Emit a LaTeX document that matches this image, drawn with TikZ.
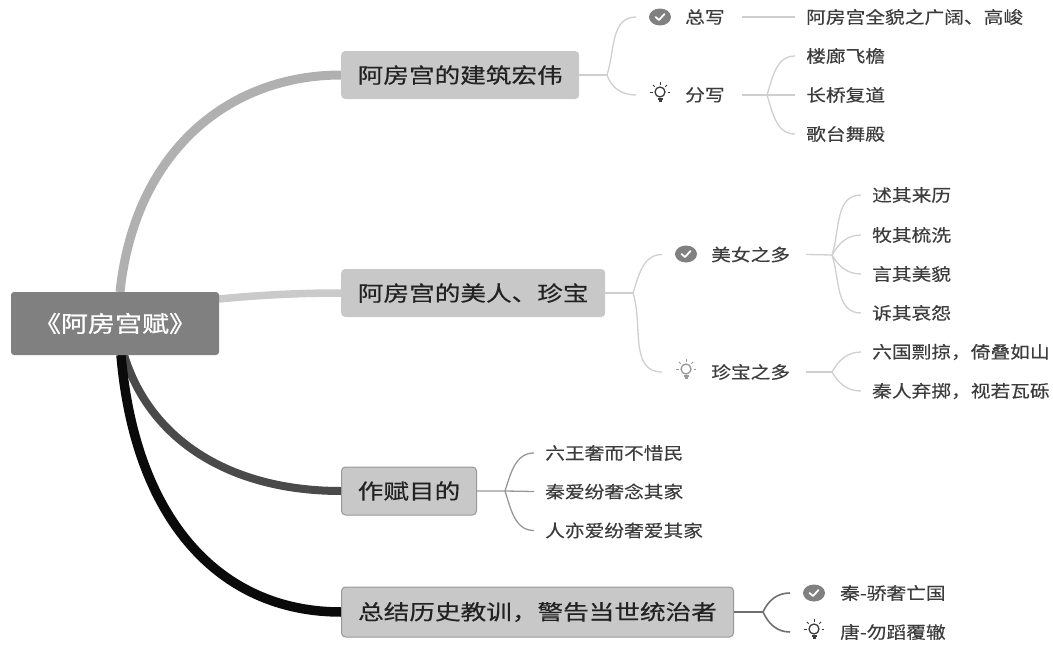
\documentclass[tikz,border=0pt]{standalone}
\usepackage{fontspec}
\usetikzlibrary{shapes.geometric}
\setmainfont{Noto Sans CJK SC}
\newfontfamily\leaffont[FakeStretch=1.16,FakeBold=0.25]{Noto Sans CJK SC}
\newfontfamily\mainfont[FakeStretch=1.22,FakeBold=0.5]{Noto Sans CJK SC}
\newfontfamily\rootfont[FakeStretch=1.2,FakeBold=1.0]{Noto Sans CJK SC}
\definecolor{rootgray}{HTML}{808080}
\definecolor{boxgray}{HTML}{C8C8C8}
\definecolor{edgeone}{HTML}{B0B0B0}
\definecolor{edgetwo}{HTML}{CACACA}
\definecolor{edgethree}{HTML}{4A4A4A}
\definecolor{edgefour}{HTML}{0A0A0A}
\definecolor{thinlight}{HTML}{CFCFCF}
\definecolor{thinmid}{HTML}{989898}
\definecolor{thindark}{HTML}{707070}
\definecolor{leaftext}{HTML}{3C3C3C}
\definecolor{boxtext}{HTML}{222222}
\tikzset{
  x=1pt,y=1pt,
  rootbox/.style={draw=none,fill=rootgray,rounded corners=3pt,text=white,inner sep=0pt,
    minimum width=208pt,minimum height=63pt,font=\rootfont\fontsize{22.5}{26}\selectfont},
  mainbox/.style={fill=boxgray,rounded corners=4pt,text=boxtext,inner sep=0pt,anchor=west,
    minimum height=48pt,font=\mainfont\fontsize{21}{25}\selectfont},
  framed/.style={mainbox,draw=thinmid,line width=1pt},
  leaf/.style={anchor=west,inner ysep=0pt,inner xsep=11pt,text=leaftext,
    font=\leaffont\fontsize{17}{20}\selectfont},
  topic/.style={anchor=west,inner sep=0pt,text=leaftext,
    font=\leaffont\fontsize{17}{20}\selectfont},
  checkdot/.style={ellipse,fill=rootgray,minimum width=22pt,minimum height=17pt,inner sep=0pt},
  thick branch/.style={line width=1.3pt,color=thinlight},
  mid branch/.style={line width=1.3pt,color=thinmid},
  dark branch/.style={line width=1.6pt,color=thindark},
  forkup/.style={out=72,in=180},
  forkdn/.style={out=-72,in=180},
}
\newcommand{\checkicon}[2]{%
  \node[checkdot] (#1) at (#2) {};
  \draw[white,line width=1.8pt,line cap=round,line join=round]
    ([shift={(-4.5,0)}]#1.center) -- ([shift={(-1,-3)}]#1.center) -- ([shift={(4.5,3)}]#1.center);
}
\newcommand{\bulbicon}[3]{%
  \node[circle,draw=#3,line width=1.3pt,minimum size=10pt,inner sep=0pt] (#1) at (#2) {};
  \draw[#3,line width=1.2pt] ([shift={(-2.5,-7)}]#1.center) -- ([shift={(2.5,-7)}]#1.center);
  \draw[#3,line width=1.6pt] ([shift={(-1.5,-9)}]#1.center) -- ([shift={(1.5,-9)}]#1.center);
  \foreach \a in {0,45,90,135,180}{
    \draw[#3,line width=1pt] ([shift={(\a:7.5)}]#1.center) -- ([shift={(\a:10)}]#1.center);
  }
}
\begin{document}
\begin{tikzpicture}
\useasboundingbox (0,0) rectangle (1053,-645);
% connectors first, so the boxes cover their ends
\coordinate (rootone) at (120,-292);
\coordinate (roottwo) at (219,-299);
\coordinate (rootthree) at (124,-355);
\coordinate (rootfour) at (121,-355);
\coordinate (b1w) at (341,-75);
\coordinate (b2w) at (341,-293);
\coordinate (b3w) at (341,-491);
\coordinate (b4w) at (341,-612);
\draw[edgeone,line width=9pt] (rootone) .. controls (135,-150) and (230,-75) .. (b1w);
\draw[edgetwo,line width=7.5pt] (roottwo) .. controls (260,-295) and (300,-293) .. (b2w);
\draw[edgethree,line width=8pt] (rootthree) .. controls (150,-440) and (230,-491) .. (b3w);
\draw[edgefour,line width=9.5pt] (rootfour) .. controls (135,-520) and (220,-612) .. (b4w);
% boxes
\node[rootbox] (root) at (115,-323.5) {《阿房宫赋》};
\node[mainbox,minimum width=238pt] (b1) at (b1w) {阿房宫的建筑宏伟};
\node[mainbox,minimum width=264pt] (b2) at (b2w) {阿房宫的美人、珍宝};
\node[framed,minimum width=135pt] (b3) at (b3w) {作赋目的};
\node[framed,minimum width=392pt,minimum height=50pt] (b4) at (b4w) {总结历史教训，警告当世统治者};
% forks
\coordinate (f1) at (607,-75);
\coordinate (f11) at (767,-95);
\coordinate (f2) at (633,-293);
\coordinate (f21) at (832,-255);
\coordinate (f22) at (832,-372);
\coordinate (f3) at (505,-491);
\coordinate (f4) at (763,-612);
% first branch
\node[topic] (zx) at (636,-17) {\hspace{49pt}总写\kern17pt};
\node[topic] (fx) at (636,-95) {\hspace{49pt}分写\kern17pt};
\checkicon{zxi}{660,-17}
\bulbicon{fxi}{660,-92}{leaftext}
\node[leaf] (zx1) at (795,-17) {阿房宫全貌之广阔、高峻};
\node[leaf] (fx1) at (795,-56) {楼廊飞檐};
\node[leaf] (fx2) at (795,-95) {长桥复道};
\node[leaf] (fx3) at (795,-134) {歌台舞殿};
\draw[thick branch] (b1.east) -- (f1);
\draw[thick branch] (f1) to[forkup] (zx.west);
\draw[thick branch] (f1) to[forkdn] (fx.west);
\draw[thick branch] (zx.east) -- (zx1.west);
\draw[thick branch] (fx.east) -- (f11) -- (fx2.west);
\draw[thick branch] (f11) to[forkup] (fx1.west);
\draw[thick branch] (f11) to[forkdn] (fx3.west);
% second branch
\node[topic] (mn) at (662,-254.5) {\hspace{49pt}美女之多\kern16pt};
\node[topic] (zb) at (662,-372) {\hspace{49pt}珍宝之多\kern16pt};
\checkicon{mni}{686,-254}
\bulbicon{zbi}{686,-369}{thinmid}
\node[leaf] (mn1) at (861,-195) {述其来历};
\node[leaf] (mn2) at (861,-235) {牧其梳洗};
\node[leaf] (mn3) at (861,-274) {言其美貌};
\node[leaf] (mn4) at (861,-313) {诉其哀怨};
\node[leaf] (zb1) at (861,-352) {六国剽掠，倚叠如山};
\node[leaf] (zb2) at (861,-391) {秦人弃掷，视若瓦砾};
\draw[thick branch] (b2.east) -- (f2);
\draw[thick branch] (f2) to[forkup] (mn.west);
\draw[thick branch] (f2) to[forkdn] (zb.west);
\draw[thick branch] (mn.east) -- (f21);
\draw[thick branch] (zb.east) -- (f22);
\draw[thick branch] (f21) to[forkup] (mn1.west);
\draw[thick branch] (f21) to[out=60,in=180] (mn2.west);
\draw[thick branch] (f21) to[out=-60,in=180] (mn3.west);
\draw[thick branch] (f21) to[forkdn] (mn4.west);
\draw[thick branch] (f22) to[out=60,in=180] (zb1.west);
\draw[thick branch] (f22) to[out=-60,in=180] (zb2.west);
% third branch
\node[leaf] (md1) at (534,-453) {六王奢而不惜民};
\node[leaf] (md2) at (534,-491.5) {秦爱纷奢念其家};
\node[leaf] (md3) at (534,-530.5) {人亦爱纷奢爱其家};
\draw[mid branch] (b3.east) -- (f3) -- (md2.west);
\draw[mid branch] (f3) to[forkup] (md1.west);
\draw[mid branch] (f3) to[forkdn] (md3.west);
% fourth branch
\node[topic] (q) at (790,-593) {\hspace{50pt}秦-骄奢亡国};
\node[topic] (t) at (790,-632) {\hspace{50pt}唐-勿蹈覆辙};
\checkicon{qi}{814,-593}
\bulbicon{ti}{814,-629}{leaftext}
\draw[dark branch] (b4.east) -- (f4);
\draw[dark branch] (f4) to[out=65,in=180] (q.west);
\draw[dark branch] (f4) to[out=-65,in=180] (t.west);
\end{tikzpicture}
\end{document}
